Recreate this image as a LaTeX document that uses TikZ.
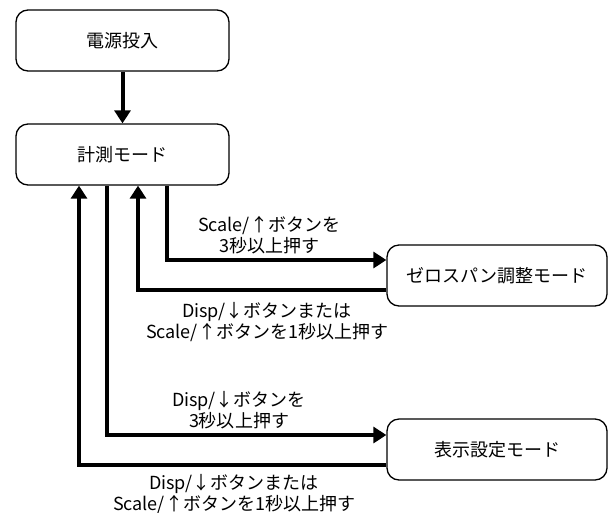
\documentclass[tikz,border=0pt]{standalone}
\usepackage{fontspec}
\newfontfamily\jpfont{Noto Sans CJK JP}
\usetikzlibrary{arrows.meta}

\tikzset{
  state/.style={draw, line width=1.3pt, rounded corners=12pt, minimum height=61pt, fill=white},
  flow/.style={line width=4pt, -{Triangle[length=13pt,width=16pt]}},
  cond/.style={align=center, inner sep=0pt}
}

\begin{document}
\begin{tikzpicture}[x=1pt, y=-1pt, font=\jpfont\fontsize{18}{21}\selectfont]
  \useasboundingbox (0,0) rectangle (609,512);

  \node[state, minimum width=213pt] (power) at (122.5, 40.5) {電源投入};
  \node[state, minimum width=213pt] (meas) at (122.5, 154.5) {計測モード};
  \node[state, minimum width=220pt] (zero) at (497, 275.5) {ゼロスパン調整モード};
  \node[state, minimum width=220pt] (disp) at (497, 449.5) {表示設定モード};

  \draw[flow] (power) -- (meas);

  % to / from zero-span adjustment
  \draw[flow] ([xshift=44.5pt]meas.south) |- ([yshift=15.5pt]zero.west);
  \draw[flow] ([yshift=-14.5pt]zero.west) -| ([xshift=15.5pt]meas.south);
  \node[cond] (zon) at (269, 235) {Scale/↑ボタンを\\3秒以上押す};
  \node[cond] (zoff) at (267, 322) {Disp/↓ボタンまたは\\Scale/↑ボタンを1秒以上押す};

  % to / from display settings
  \draw[flow] ([xshift=-15.5pt]meas.south) |- ([yshift=14.5pt]disp.west);
  \draw[flow] ([yshift=-15.5pt]disp.west) -| ([xshift=-43.5pt]meas.south);
  \node[cond] (don) at (239, 410) {Disp/↓ボタンを\\3秒以上押す};
  \node[cond] (doff) at (234, 494) {Disp/↓ボタンまたは\\Scale/↑ボタンを1秒以上押す};
\end{tikzpicture}
\end{document}
